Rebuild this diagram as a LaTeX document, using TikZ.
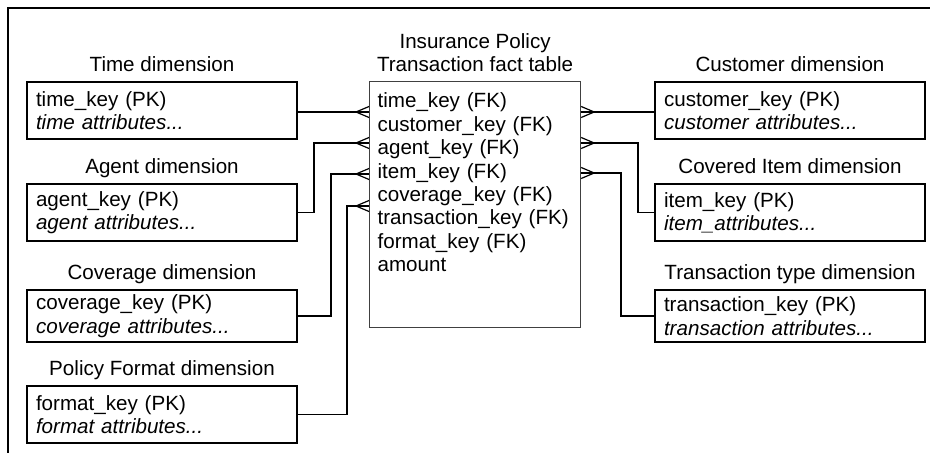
\documentclass[tikz,border=0pt]{standalone}
\usepackage{fontspec}
\setmainfont{Liberation Sans}
\usetikzlibrary{positioning,calc}

\tikzset{
    crowL/.pic={\draw[link] (0,-5.5) -- (-13,0) -- (0,5.5);},
    crowR/.pic={\draw[link] (0,-5.5) -- (13,0) -- (0,5.5);},
}

\begin{document}
\begin{tikzpicture}[
    x=0.5pt, y=-0.5pt,
    font=\fontsize{10.3}{11.7}\selectfont,
    dim/.style={rectangle,draw,line width=1pt,anchor=north west,align=left,text width=126pt,inner xsep=4.5pt,inner ysep=0pt,minimum height=28.5pt},
    fact/.style={rectangle,draw=black!75,line width=0.6pt,anchor=north west,align=left,text width=97.5pt,inner xsep=4pt,inner ysep=5.7pt,text depth=104pt},
    title/.style={inner sep=0pt,align=center,text depth=0pt},
    link/.style={line width=0.6pt},
]
\useasboundingbox (0,0) rectangle (930,453);

% ===== Frame =====
\draw[line width=0.6pt] (8,453) -- (8,8) -- (930,8);

% ===== Dimension tables (left) =====
\node[dim] (timebox) at (26,81) {time\_key (PK)\\\textit{time attributes...}};
\node[dim] (agentbox) at (26,183) {agent\_key (PK)\\\textit{agent attributes...}};
\node[dim,minimum height=26pt] (covbox) at (26,289) {coverage\_key (PK)\\\textit{coverage attributes...}};
\node[dim] (fmtbox) at (26,385) {format\_key (PK)\\\textit{format attributes...}};

% ===== Fact table =====
\node[fact] (fact) at (369,81) {
    time\_key (FK)\\
    customer\_key (FK)\\
    agent\_key (FK)\\
    item\_key (FK)\\
    coverage\_key (FK)\\
    transaction\_key (FK)\\
    format\_key (FK)\\
    amount
};

% ===== Dimension tables (right) =====
\node[dim] (custbox) at (654,81) {customer\_key (PK)\\\textit{customer attributes...}};
\node[dim] (itembox) at (654,183) {item\_key (PK)\\\textit{item\_attributes...}};
\node[dim,minimum height=26pt] (transbox) at (654,289) {transaction\_key (PK)\\\textit{transaction attributes...}};

% ===== Titles =====
\node[title,above=4.3pt of timebox] {Time dimension};
\node[title,above=4.3pt of agentbox] {Agent dimension};
\node[title,above=4.3pt of covbox] {Coverage dimension};
\node[title,above=4.3pt of fmtbox] {Policy Format dimension};
\node[title,above=4.3pt of fact] {Insurance Policy\\Transaction fact table};
\node[title,above=4.3pt of custbox] {Customer dimension};
\node[title,above=4.3pt of itembox] {Covered Item dimension};
\node[title,above=4.3pt of transbox] {Transaction type dimension};

% connection points on the fact table
\coordinate (lf1) at ($(fact.north west)+(0,31)$);
\coordinate (lf2) at ($(fact.north west)+(0,62)$);
\coordinate (lf3) at ($(fact.north west)+(0,93)$);
\coordinate (lf4) at ($(fact.north west)+(0,125)$);
\coordinate (rf1) at ($(fact.north east)+(0,31)$);
\coordinate (rf2) at ($(fact.north east)+(0,62)$);
\coordinate (rf3) at ($(fact.north east)+(0,92)$);

% ===== Connectors =====
\draw[link] (timebox.east |- lf1) -- (lf1) pic{crowL};
\draw[link] (agentbox.east) -- ++(16,0) |- (lf2) pic{crowL};
\draw[link] (covbox.east) -- ++(33,0) |- (lf3) pic{crowL};
\draw[link] (fmtbox.east) -- ++(49,0) |- (lf4) pic{crowL};
\draw[link] (custbox.west |- rf1) -- (rf1) pic{crowR};
\draw[link] (itembox.west) -- ++(-16,0) |- (rf2) pic{crowR};
\draw[link] (transbox.west) -- ++(-33,0) |- (rf3) pic{crowR};

\end{tikzpicture}
\end{document}
